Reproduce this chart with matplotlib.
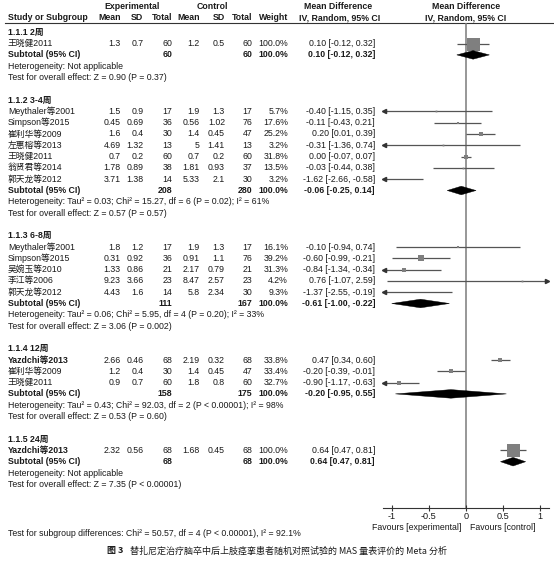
import matplotlib
matplotlib.use('Agg')
import matplotlib.pyplot as plt
from matplotlib.patches import Polygon

# ---------------- data ----------------
groups = ['1.1.1 2周', '1.1.2 3-4周', '1.1.3 6-8周', '1.1.4 12周', '1.1.5 24周']
study_group = [0, 1, 1, 1, 1, 1, 1, 1, 2, 2, 2, 2, 2, 3, 3, 3, 4]
study_names = ['王晓健2011',
               'Meythaler等2001', 'Simpson等2015', '崔利华等2009', '左惠榕等2013',
               '王晓健2011', '翁贤君等2014', '郭天龙等2012',
               'Meythaler等2001', 'Simpson等2015', '吴婉玉等2010', '李江等2006', '郭天龙等2012',
               'Yazdchi等2013', '崔利华等2009', '王晓健2011',
               'Yazdchi等2013']
exp_mean = [1.3, 1.5, 0.45, 1.6, 4.69, 0.7, 1.78, 3.71, 1.8, 0.31, 1.33, 9.23, 4.43, 2.66, 1.2, 0.9, 2.32]
exp_sd = [0.7, 0.9, 0.69, 0.4, 1.32, 0.2, 0.89, 1.38, 1.2, 0.92, 0.86, 3.66, 1.6, 0.46, 0.4, 0.7, 0.56]
exp_n = [60, 17, 36, 30, 13, 60, 38, 14, 17, 36, 21, 23, 14, 68, 30, 60, 68]
ctl_mean = [1.2, 1.9, 0.56, 1.4, 5, 0.7, 1.81, 5.33, 1.9, 0.91, 2.17, 8.47, 5.8, 2.19, 1.4, 1.8, 1.68]
ctl_sd = [0.5, 1.3, 1.02, 0.45, 1.41, 0.2, 0.93, 2.1, 1.3, 1.1, 0.79, 2.57, 2.34, 0.32, 0.45, 0.8, 0.45]
ctl_n = [60, 17, 76, 47, 13, 60, 37, 30, 17, 76, 21, 23, 30, 68, 47, 60, 68]
weight = [100.0, 5.7, 17.6, 25.2, 3.2, 31.8, 13.5, 3.2, 16.1, 39.2, 31.3, 4.2, 9.3, 33.8, 33.4, 32.7, 100.0]
md = [0.10, -0.40, -0.11, 0.20, -0.31, 0.00, -0.03, -1.62, -0.10, -0.60, -0.84, 0.76, -1.37, 0.47, -0.20, -0.90, 0.64]
ci_lo = [-0.12, -1.15, -0.43, 0.01, -1.36, -0.07, -0.44, -2.66, -0.94, -0.99, -1.34, -1.07, -2.55, 0.34, -0.39, -1.17, 0.47]
ci_hi = [0.32, 0.35, 0.21, 0.39, 0.74, 0.07, 0.38, -0.58, 0.74, -0.21, -0.34, 2.59, -0.19, 0.60, -0.01, -0.63, 0.81]

sub_exp_n = [60, 208, 111, 158, 68]
sub_ctl_n = [60, 280, 167, 175, 68]
sub_md = [0.10, -0.06, -0.61, -0.20, 0.64]
sub_lo = [-0.12, -0.25, -1.00, -0.95, 0.47]
sub_hi = [0.32, 0.14, -0.22, 0.55, 0.81]
heterogeneity = ['Heterogeneity: Not applicable',
                 'Heterogeneity: Tau² = 0.03; Chi² = 15.27, df = 6 (P = 0.02); I² = 61%',
                 'Heterogeneity: Tau² = 0.06; Chi² = 5.95, df = 4 (P = 0.20); I² = 33%',
                 'Heterogeneity: Tau² = 0.43; Chi² = 92.03, df = 2 (P < 0.00001); I² = 98%',
                 'Heterogeneity: Not applicable']
overall = ['Test for overall effect: Z = 0.90 (P = 0.37)',
           'Test for overall effect: Z = 0.57 (P = 0.57)',
           'Test for overall effect: Z = 3.06 (P = 0.002)',
           'Test for overall effect: Z = 0.53 (P = 0.60)',
           'Test for overall effect: Z = 7.35 (P < 0.00001)']
subgroup_test = 'Test for subgroup differences: Chi² = 50.57, df = 4 (P < 0.00001), I² = 92.1%'
x_ticks = [-1, -0.5, 0, 0.5, 1]
x_tick_labels = ['-1', '-0.5', '0', '0.5', '1']
caption = '替扎尼定治疗脑卒中后上肢痉挛患者随机对照试验的 MAS 量表评价的 Meta 分析'

# ---------------- layout ----------------
W, H = 554, 564
FAM = ['Liberation Sans', 'Noto Sans CJK SC']
FS = 6.3
ROW0, ROWH = 32.3, 11.3
TXT = '#1a1a1a'

fig = plt.figure(figsize=(W / 100, H / 100), dpi=100)
fig.patch.set_facecolor('white')
at = fig.add_axes([0, 0, 1, 1])
at.set_xlim(0, W)
at.set_ylim(H, 0)
at.axis('off')

# forest axes
FX0, FX1 = 382.7, 549.3
FY0, FY1 = 22.5, 508.3
ZERO_PX, UNIT_PX = 465.7, 74.0
af = fig.add_axes([FX0 / W, 1 - FY1 / H, (FX1 - FX0) / W, (FY1 - FY0) / H])
af.patch.set_alpha(0)
af.set_xlim((FX0 - ZERO_PX) / UNIT_PX, (FX1 - ZERO_PX) / UNIT_PX)
af.set_ylim((FY1 - ROW0) / ROWH, (FY0 - ROW0) / ROWH)
for s in ['left', 'top', 'right']:
    af.spines[s].set_visible(False)
af.spines['bottom'].set_color('#333333')
af.spines['bottom'].set_linewidth(0.8)
af.set_yticks([])
af.set_xticks(x_ticks)
af.set_xticklabels(x_tick_labels, family=FAM, fontsize=FS + 0.3, color=TXT)
af.tick_params(axis='x', direction='inout', length=5, width=0.8, color='#333333', pad=0.5)
af.axvline(0, color='#7a7a7a', lw=1.1, zorder=1)

def ypx(r):
    return ROW0 + ROWH * r

def txt(x, r, s, ha='left', bold=False, y=None, **kw):
    at.text(x, ypx(r) if y is None else y, s, ha=ha, va='center', family=FAM,
            fontsize=FS, fontweight='bold' if bold else 'normal', color=TXT, **kw)

# headers
hy1, hy2 = 6.5, 17.5
txt(132.5, 0, 'Experimental', ha='center', bold=True, y=hy1)
txt(212.5, 0, 'Control', ha='center', bold=True, y=hy1)
txt(338, 0, 'Mean Difference', ha='center', bold=True, y=hy1)
txt(466, 0, 'Mean Difference', ha='center', bold=True, y=hy1)
txt(8, 0, 'Study or Subgroup', bold=True, y=hy2)
for xx, s in [(120.5, 'Mean'), (143.5, 'SD'), (172.5, 'Total'), (200, 'Mean'),
              (225, 'SD'), (252.3, 'Total'), (288, 'Weight')]:
    txt(xx, 0, s, ha='right', bold=True, y=hy2)
txt(340, 0, 'IV, Random, 95% CI', ha='center', bold=True, y=hy2)
txt(466, 0, 'IV, Random, 95% CI', ha='center', bold=True, y=hy2)
at.plot([5, W], [22.5, 22.5], color='#333333', lw=0.8)

LIM = 1.1
def fmt(v):
    return f'{v:g}'

def ci_text(m, lo, hi):
    return f'{m:.2f} [{lo:.2f}, {hi:.2f}]'

r = 0
for g, gname in enumerate(groups):
    txt(8, r, gname, bold=True)
    r += 1
    for i in [k for k, sg in enumerate(study_group) if sg == g]:
        nm = study_names[i]
        txt(8, r, nm, bold=nm.startswith('Yazdchi'))
        txt(120.5, r, fmt(exp_mean[i]), ha='right')
        txt(143.5, r, fmt(exp_sd[i]), ha='right')
        txt(172.5, r, str(exp_n[i]), ha='right')
        txt(200, r, fmt(ctl_mean[i]), ha='right')
        txt(225, r, fmt(ctl_sd[i]), ha='right')
        txt(252.3, r, str(ctl_n[i]), ha='right')
        txt(288, r, f'{weight[i]:.1f}%', ha='right')
        txt(375, r, ci_text(md[i], ci_lo[i], ci_hi[i]), ha='right')
        # forest
        lo_c, hi_c = max(ci_lo[i], -LIM), min(ci_hi[i], LIM)
        if hi_c > lo_c:
            af.plot([lo_c, hi_c], [r, r], color='#555555', lw=0.9, zorder=2, solid_capstyle='butt')
        if ci_lo[i] < -LIM:
            af.plot([-LIM], [r], marker='<', ms=3, color='#333333', zorder=3, clip_on=False)
        if ci_hi[i] > LIM:
            af.plot([LIM], [r], marker='>', ms=3, color='#333333', zorder=3, clip_on=False)
        side = max(13 * weight[i] / 100, 1.8)
        af.plot([md[i]], [r], marker='s', ms=side * 0.72, color='#7f7f7f',
                mec='#7f7f7f', mew=0, zorder=4)
        r += 1
    txt(8, r, 'Subtotal (95% CI)', bold=True)
    txt(172.5, r, str(sub_exp_n[g]), ha='right', bold=True)
    txt(252.3, r, str(sub_ctl_n[g]), ha='right', bold=True)
    txt(288, r, '100.0%', ha='right', bold=True)
    txt(375, r, ci_text(sub_md[g], sub_lo[g], sub_hi[g]), ha='right', bold=True)
    hd = 0.38
    af.add_patch(Polygon([(sub_lo[g], r), (sub_md[g], r - hd), (sub_hi[g], r), (sub_md[g], r + hd)],
                         closed=True, facecolor='black', edgecolor='black', lw=0.3, zorder=5))
    r += 1
    txt(8, r, heterogeneity[g])
    r += 1
    txt(8, r, overall[g])
    r += 2

at.text(8, 534, subgroup_test, ha='left', va='center', family=FAM, fontsize=FS, color=TXT)
at.text(461, 527.7, 'Favours [experimental]', ha='right', va='center', family=FAM, fontsize=FS, color=TXT)
at.text(470, 527.7, 'Favours [control]', ha='left', va='center', family=FAM, fontsize=FS, color=TXT)
at.text(107, 551, '图 3', ha='left', va='center', family=['Noto Sans CJK SC'], fontsize=6.5,
        fontweight='bold', color=TXT)
at.text(130, 551, caption, ha='left', va='center', family=['Noto Sans CJK SC', 'DejaVu Sans'],
        fontsize=6.5, color=TXT)

fig.savefig('out.png', dpi=100, facecolor='white')
